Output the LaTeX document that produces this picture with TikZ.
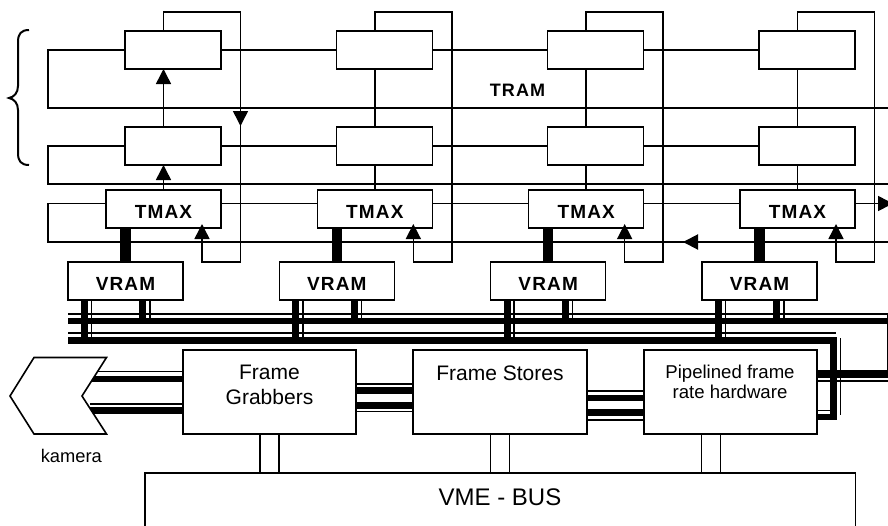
\documentclass[tikz,border=0pt]{standalone}
\usepackage{fontspec}
\setmainfont{Liberation Sans}
\newfontfamily\chipfont[LetterSpace=6]{Liberation Sans}
\usetikzlibrary{arrows.meta}
\tikzset{
  wire/.style={line width=1.5pt},
  bar/.style={line width=6.5pt},
  tip/.style={-{Triangle[length=15pt,width=15pt]}},
  cell/.style={draw, fill=white, line width=1.6pt, inner sep=0pt, outer sep=0pt},
  rambox/.style={cell, minimum width=96pt, minimum height=38pt},
  chipbox/.style={cell, minimum width=115pt, minimum height=38pt, text height=19.4pt,
    font=\fontsize{19}{22}\chipfont\bfseries},
  framebox/.style={cell, minimum width=173.5pt, minimum height=84pt},
}
\begin{document}
\begin{tikzpicture}[x=1pt, y=-1pt]
        \useasboundingbox (0,0) rectangle (888,525);

        % Brace of the TRAM rows
        \draw[line width=2pt] (29,30) .. controls (21,30) and (18,34) .. (18,42) -- (18,86)
            .. controls (18,93) and (14,97) .. (9,98) .. controls (14,99) and (18,103) .. (18,110)
            -- (18,153) .. controls (18,161) and (21,165) .. (29,165);

        % Columns of boxes
        \foreach \i/\dx in {1/0, 2/211.33, 3/422.67, 4/634} {
            \node[rambox] (ramA\i) at ({173+\dx},50) {};
            \node[rambox] (ramB\i) at ({173+\dx},146) {};
            \node[chipbox] (tmax\i) at ({163.5+\dx},209) {TMAX};
            \node[chipbox] (vram\i) at ({125.5+\dx},281) {VRAM};
            \coordinate (loopT\i) at ({240.5+\dx},12);
            \coordinate (loopB\i) at ({240.5+\dx},262);
            \coordinate (inTmax\i) at ({202+\dx},224);
            % Vertical links
            \draw[wire] (ramB\i.north -| tmax\i) -- (ramA\i.south -| tmax\i);
            \draw[wire] (tmax\i.north) -- (ramB\i.south -| tmax\i);
            \draw[line width=10.5pt] (tmax\i.south -| vram\i) -- (vram\i.north);
            % Feedback loop
            \draw[wire, tip] (ramA\i.north -| tmax\i) |- (loopT\i) -- (loopB\i) -| (inTmax\i);
            % Links down to the bus
            \coordinate (busA\i) at ({84.5+\dx},344);
            \coordinate (busB\i) at ({91.5+\dx},344);
            \coordinate (busC\i) at ({142.7+\dx},318);
            \coordinate (busD\i) at ({150+\dx},318);
            \draw[line width=7pt] (vram\i.south -| busA\i) -- (busA\i);
            \draw[wire] (vram\i.south -| busB\i) -- (busB\i);
            \draw[line width=7pt] (vram\i.south -| busC\i) -- (busC\i);
            \draw[wire] (vram\i.south -| busD\i) -- (busD\i);
        }

        % Arrows of the first column
        \coordinate (loopArrow) at (240.5,126);
        \draw[wire, tip] (loopT1) -- (loopArrow);
        \draw[wire, tip] (ramB1.north -| tmax1) -- (ramA1.south -| tmax1);
        \draw[wire, tip] (tmax1.north) -- (ramB1.south -| tmax1);

        % Horizontal links
        \coordinate (leftA) at (48,108);
        \coordinate (rightA) at (888,108);
        \coordinate (leftB) at (48,184);
        \coordinate (rightB) at (888,184);
        \coordinate (leftC) at (48,242);
        \coordinate (rightC) at (888,242);
        \coordinate (rightD) at (893,203.5);
        \draw[wire] (ramA1.west) -| (leftA) -- (rightA);
        \draw[wire] (ramB1.west) -| (leftB) -- (rightB);
        \draw[wire] (tmax1.west |- rightD) -| (leftC) -- (rightC);
        \foreach \i/\j in {1/2, 2/3, 3/4} {
            \draw[wire] (ramA\i.east) -- (ramA\j.west);
            \draw[wire] (ramB\i.east) -- (ramB\j.west);
            \draw[wire] (tmax\i.east |- rightD) -- (tmax\j.west |- rightD);
        }
        \draw[wire, tip] (tmax4.east |- rightD) -- (rightD);
        \coordinate (backStart) at (721,242);
        \coordinate (backEnd) at (683,242);
        \draw[line width=2pt, tip] (backStart) -- (backEnd);

        \node[font=\fontsize{18}{22}\chipfont\bfseries] (tram) at (517.5,90) {TRAM};

        % Bus
        \coordinate (busLa) at (68,314);
        \coordinate (busLb) at (68,321);
        \coordinate (busLc) at (68,333);
        \coordinate (busLd) at (68,340.5);
        \coordinate (busRa) at (888,314);
        \coordinate (busRb) at (888,321);
        \coordinate (busRc) at (836,333);
        \coordinate (busRd) at (833.5,340.5);
        \coordinate (busEnd) at (833.5,420);
        \draw[wire] (busLa) -- (busRa);
        \draw[bar] (busLb) -- (busRb);
        \draw[wire] (busLc) -- (busRc);
        \draw[bar, line join=miter] (busLd) -- (busRd) -- (busEnd);

        % Frame boxes
        \node[framebox] (grab) at (269.5,392) {};
        \node[framebox] (store) at (500,392) {};
        \node[framebox] (pipe) at (730.5,392) {};
        \node[font=\fontsize{21}{25}\selectfont, align=center] (grabText) at (269.5,385) {Frame\\Grabbers};
        \node[font=\fontsize{21}{25}\selectfont] (storeText) at (500,373) {Frame Stores};
        \node[font=\fontsize{18.6}{20}\selectfont, align=center] (pipeText) at (730,382) {Pipelined frame\\rate hardware};

        % Links between frame boxes
        \foreach \y in {384,411.7} \draw[wire] (grab.east |- 0,\y) -- (store.west |- 0,\y);
        \foreach \y in {390.7,405.7} \draw[bar] (grab.east |- 0,\y) -- (store.west |- 0,\y);
        \foreach \y in {391,420} \draw[wire] (store.east |- 0,\y) -- (pipe.west |- 0,\y);
        \foreach \y in {398,412.7} \draw[bar] (store.east |- 0,\y) -- (pipe.west |- 0,\y);

        % Right side of the bus
        \coordinate (sideA) at (840.7,338);
        \coordinate (sideB) at (840.7,415);
        \coordinate (edgeT) at (887.7,314);
        \coordinate (edgeB) at (887.7,371);
        \coordinate (edgeC) at (888,375);
        \coordinate (edgeD) at (888,381);
        \draw[wire] (sideA) -- (sideB);
        \draw[wire] (edgeT) -- (edgeB) -- (pipe.east |- edgeB);
        \draw[bar] (pipe.east |- edgeC) -- (edgeC);
        \draw[wire] (pipe.east |- edgeD) -- (edgeD);
        \draw[wire] (pipe.east |- 0,410.7) -- (busEnd |- 0,410.7);
        \draw[bar] (pipe.east |- 0,417) -- (836.7,417);

        % Camera
        \coordinate (camA) at (90,371.7);
        \coordinate (camB) at (90,379);
        \coordinate (camC) at (90,404);
        \coordinate (camD) at (90,410.7);
        \draw[wire] (camA) -- (grab.west |- camA);
        \draw[bar] (camB) -- (grab.west |- camB);
        \draw[wire] (camC) -- (grab.west |- camC);
        \draw[bar] (camD) -- (grab.west |- camD);
        \draw[cell] (106.5,357.5) -- (34,357.5) -- (10,396) -- (34,434) -- (106.5,434) -- (82,396) -- cycle;
        \node[font=\fontsize{18.3}{22}\selectfont] (kamera) at (71.3,456) {kamera};

        % VME bus
        \coordinate (vmeL) at (145,530);
        \coordinate (vmeR) at (855.5,530);
        \coordinate (vmeT) at (500,472.7);
        \draw[line width=1.6pt] (vmeL) |- (vmeT) -| (vmeR);
        \node[font=\fontsize{24}{28}\selectfont] (vme) at (500,497) {VME - BUS};
        \foreach \b/\x in {grab/269.5, store/500.2, pipe/711.2} {
            \coordinate (linkL) at ({\x-9.5},472.7);
            \coordinate (linkR) at ({\x+9.5},472.7);
            \draw[wire] (linkL |- \b.south) -- (linkL);
            \draw[wire] (linkR |- \b.south) -- (linkR);
        }
    \end{tikzpicture}
\end{document}
